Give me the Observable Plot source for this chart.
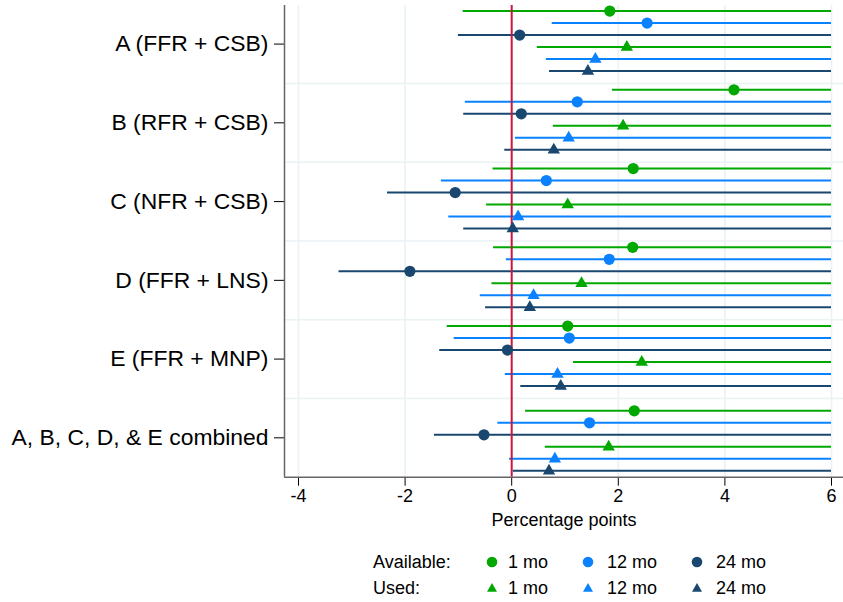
<!DOCTYPE html>
<html>
<head>
<meta charset="utf-8">
<script src="https://cdn.jsdelivr.net/npm/d3@7"></script>
<script src="https://cdn.jsdelivr.net/npm/@observablehq/plot@0.6"></script>
<style>
  body { margin: 0; background: #fff; font-family: "Liberation Sans", Arial, sans-serif; }
  #wrap { position: relative; width: 843px; height: 602px; overflow: hidden; }
  #wrap svg [aria-label^="y-axis"] text { font-size: 22.9px; fill: #000; }
  #wrap svg [aria-label^="x-axis"] text { font-size: 18px; fill: #000; }
  .legrow { position: absolute; height: 24px; line-height: 24px; font-size: 18px; color: #000; }
  .legrow span, .legrow svg { position: absolute; top: 0; }
</style>
</head>
<body>
<div id="wrap"></div>
<script>
// ---- data ----
const groups = ["A (FFR + CSB)", "B (RFR + CSB)", "C (NFR + CSB)", "D (FFR + LNS)", "E (FFR + MNP)", "A, B, C, D, & E combined"];
const measures = ["Available", "Available", "Available", "Used", "Used", "Used"];
const periods = ["1 mo", "12 mo", "24 mo", "1 mo", "12 mo", "24 mo"];
const seriesColors = ["#00a800", "#0a82ff", "#1a476f", "#00a800", "#0a82ff", "#1a476f"];
// point estimates, one array per group, in the order of measures/periods
const estimates = [
  [1.84, 2.54, 0.15, 2.16, 1.57, 1.43],
  [4.17, 1.23, 0.18, 2.09, 1.07, 0.79],
  [2.28, 0.65, -1.06, 1.05, 0.12, 0.02],
  [2.27, 1.83, -1.91, 1.31, 0.41, 0.34],
  [1.05, 1.08, -0.08, 2.44, 0.86, 0.92],
  [2.30, 1.46, -0.52, 1.82, 0.81, 0.70]
];
const lowerCI = [
  [-0.91, 0.76, -1.00, 0.48, 0.65, 0.71],
  [1.89, -0.87, -0.90, 0.78, 0.07, -0.13],
  [-0.35, -1.32, -2.33, -0.47, -1.18, -0.90],
  [-0.34, -0.10, -3.24, -0.37, -0.59, -0.49],
  [-1.21, -1.08, -1.35, 1.16, -0.12, 0.17],
  [0.26, -0.26, -1.45, 0.63, -0.04, 0.03]
];
const upperCI = [
  [6, 6, 6, 6, 6, 6],
  [6, 6, 6, 6, 6, 6],
  [6, 6, 6, 6, 6, 6],
  [6, 6, 6, 6, 6, 6],
  [6, 6, 6, 6, 6, 6],
  [6, 6, 6, 6, 6, 6]
];
const xTicks = [-4, -2, 0, 2, 4, 6];
const xLabel = "Percentage points";
const legendRowLabels = ["Available:", "Used:"];
const legendPeriods = ["1 mo", "12 mo", "24 mo"];

// ---- table ----
const rowStep = 0.1525;
const rows = [];
groups.forEach((g, gi) => {
  measures.forEach((m, k) => {
    const center = gi === groups.length - 1 ? 2.25 : 2.75;
    rows.push({
      group: g, measure: m, period: periods[k],
      y: gi + (k - center) * rowStep,
      est: estimates[gi][k], lo: lowerCI[gi][k], hi: upperCI[gi][k],
      color: seriesColors[k],
      shape: m === "Available" ? "circle" : "triangle"
    });
  });
});

const xDomain = [-4.2625, 6.225];
const yDomain = [-0.49, 5.5];
const gridY = d3.range(0.5, groups.length - 1, 1);
const gridX = xTicks.filter(t => t !== 0);

const chart = Plot.plot({
  width: 843,
  height: 540,
  marginLeft: 284,
  marginRight: 0,
  marginTop: 5,
  marginBottom: 63.3,
  style: { fontFamily: "'Liberation Sans', Arial, sans-serif", color: "#000", background: "#fff" },
  x: { domain: xDomain, ticks: xTicks, tickSize: 9, tickPadding: 3, tickFormat: d => String(d), label: null },
  y: { domain: yDomain, reverse: true, ticks: d3.range(groups.length), tickSize: 10, tickPadding: 6, tickFormat: i => groups[i], label: null },
  color: { type: "identity" },
  marks: [
    Plot.ruleX(gridX, { stroke: "#eaf2f3", strokeWidth: 1.6 }),
    Plot.ruleY(gridY, { stroke: "#eaf2f3", strokeWidth: 1.6 }),
    Plot.ruleY(rows, { y: "y", x1: "lo", x2: "hi", stroke: "color", strokeWidth: 2 }),
    Plot.ruleX([0], { stroke: "#c8173f", strokeWidth: 2 }),
    Plot.dot(rows.filter(d => d.shape === "circle"), { x: "est", y: "y", fill: "color", r: 5.6, symbol: "circle" }),
    Plot.dot(rows.filter(d => d.shape === "triangle"), { x: "est", y: "y", fill: "color", r: 4.6, symbol: "triangle" }),
    Plot.ruleX([xDomain[0]], { stroke: "#666", strokeWidth: 1.5 }),
    Plot.ruleY([yDomain[1]], { stroke: "#666", strokeWidth: 1.5 }),
    Plot.text([xLabel], { frameAnchor: "bottom", dy: 43, fontSize: 18, fill: "#000", lineAnchor: "middle" })
  ]
});

const wrap = document.getElementById("wrap");
wrap.appendChild(chart);

// ---- legend ----
const symX = [491.7, 588.3, 696.7];
const txtX = [508, 607, 716];
const rowY = [561.7, 588.3];
legendRowLabels.forEach((lab, r) => {
  const div = document.createElement("div");
  div.className = "legrow";
  div.style.left = "0px";
  div.style.width = "843px";
  div.style.top = (rowY[r] - 12) + "px";
  let html = `<span style="left:373px">${lab}</span>`;
  legendPeriods.forEach((p, j) => {
    const c = seriesColors[r * 3 + j];
    const shape = r === 0
      ? `<circle cx="7" cy="12" r="5.3" fill="${c}"/>`
      : `<polygon points="7,7 12,15.8 2,15.8" fill="${c}"/>`;
    html += `<svg width="14" height="24" style="left:${symX[j] - 7}px">${shape}</svg>`;
    html += `<span style="left:${txtX[j]}px">${p}</span>`;
  });
  div.innerHTML = html;
  wrap.appendChild(div);
});
</script>
</body>
</html>
